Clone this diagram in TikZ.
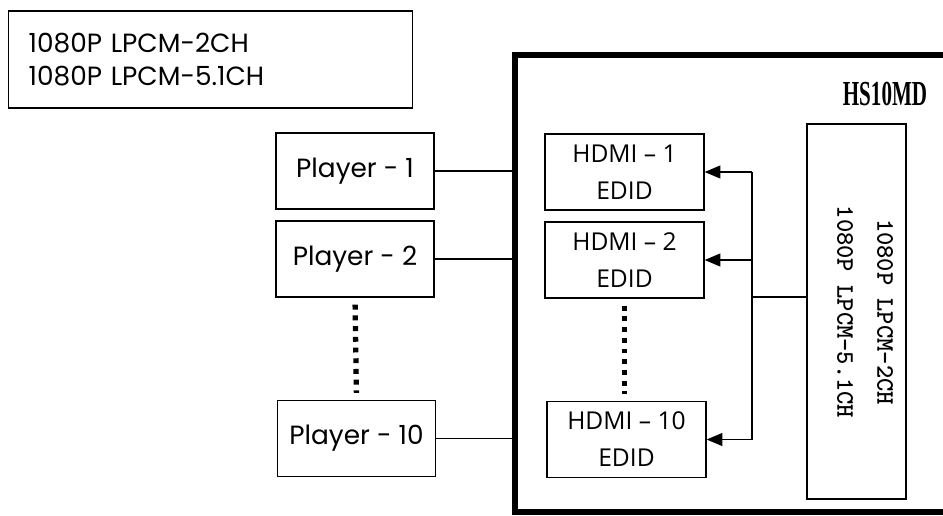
\documentclass[tikz,border=0pt]{standalone}
\usepackage{fontspec}
\usepackage{graphicx}
\usetikzlibrary{arrows.meta}
\usetikzlibrary{positioning, backgrounds}
\newfontfamily\playerfont{Poppins}
\newfontfamily\edidfont{Open Sans}
\newfontfamily\titlefont{Liberation Serif}
\tikzset{
player box/.style = { rectangle, draw = black, fill = white, line width = 0.75pt, inner sep = 0pt, minimum width = 3.16cm, minimum height = 1.52cm, font = \playerfont\fontsize{15}{18}\selectfont },
edid box/.style = { rectangle, draw = black, fill = white, line width = 0.75pt, inner sep = 0pt, minimum width = 3.18cm, minimum height = 1.52cm, align = center, font = \edidfont\fontsize{14}{21}\selectfont },
dots line/.style = { line width = 3pt, dash pattern = on 2.8pt off 3.3pt, shorten <= 4pt, shorten >= 4pt },
}
\begin{document}
\begin{tikzpicture}[x=0.02cm, y=-0.02cm]
      \useasboundingbox (0,0) rectangle (943,515);
      \begin{scope}[every node/.style={inner sep=0pt}]
        \node[rectangle, draw, line width=0.75pt, anchor=west, minimum width=8.08cm, minimum height=1.94cm, inner xsep=0.4cm, text width=7.28cm, align=left, font=\playerfont\fontsize{15}{18.8}\selectfont] (formats) at (8,59.5) {1080P LPCM-2CH\\1080P LPCM-5.1CH};
        \coordinate (frame) at (515,283.5);
        \node[font=\titlefont\bfseries\fontsize{20}{24}\selectfont] (name) at (885,94) {\scalebox{0.6}[1]{HS10MD}};
        \node[player box] (p1) at (355,171) {Player - 1};
        \node[player box] (p2) at (355,259) {Player - 2};
        \node[player box] (p10) at (356.5,438.5) {Player - 10};
        \node[edid box] (h1) at (624.5,172) {HDMI – 1\\EDID};
        \node[edid box] (h2) at (624.5,260) {HDMI – 2\\EDID};
        \node[edid box] (h10) at (626.5,439.5) {HDMI – 10\\EDID};
        \node[rectangle, draw, line width=0.75pt, minimum width=1.98cm, minimum height=7.5cm] (src) at (856.5,311.5) {};
        \node[rotate=-90, align=center, font=\ttfamily\bfseries\fontsize{14.4}{22.8}\selectfont] (srctext) at (865,312) {1080P LPCM-2CH\\1080P LPCM-5.1CH};
        \coordinate (bus) at (752,297);
      \end{scope}
      % thick outline of the unit, open to the right
      \draw[line width=3.4pt] (943,55) -| (frame) |- (943,512);
      \begin{scope}[>={Triangle[length=9pt, width=7.4pt]},
                    every edge/.style={draw=black, line width=0.75pt}]
        \path [-] (p1.east) edge (p1.east -| frame);
        \path [-] (p2.east) edge (p2.east -| frame);
        \path [-] (p10.east) edge (p10.east -| frame);
        \path [-] (src.west |- bus) edge (bus);
        \path [-] (bus |- h1) edge (bus |- h10);
        \path [->] (bus |- h1) edge (h1.east);
        \path [->] (bus |- h2) edge (h2.east);
        \path [->] (bus |- h10) edge (h10.east);
      \end{scope}
      \draw[dots line] (p2.south) -- (p10.north);
      \draw[dots line] (h2.south) -- (h2.south |- h10.north);
    \end{tikzpicture}
\end{document}
